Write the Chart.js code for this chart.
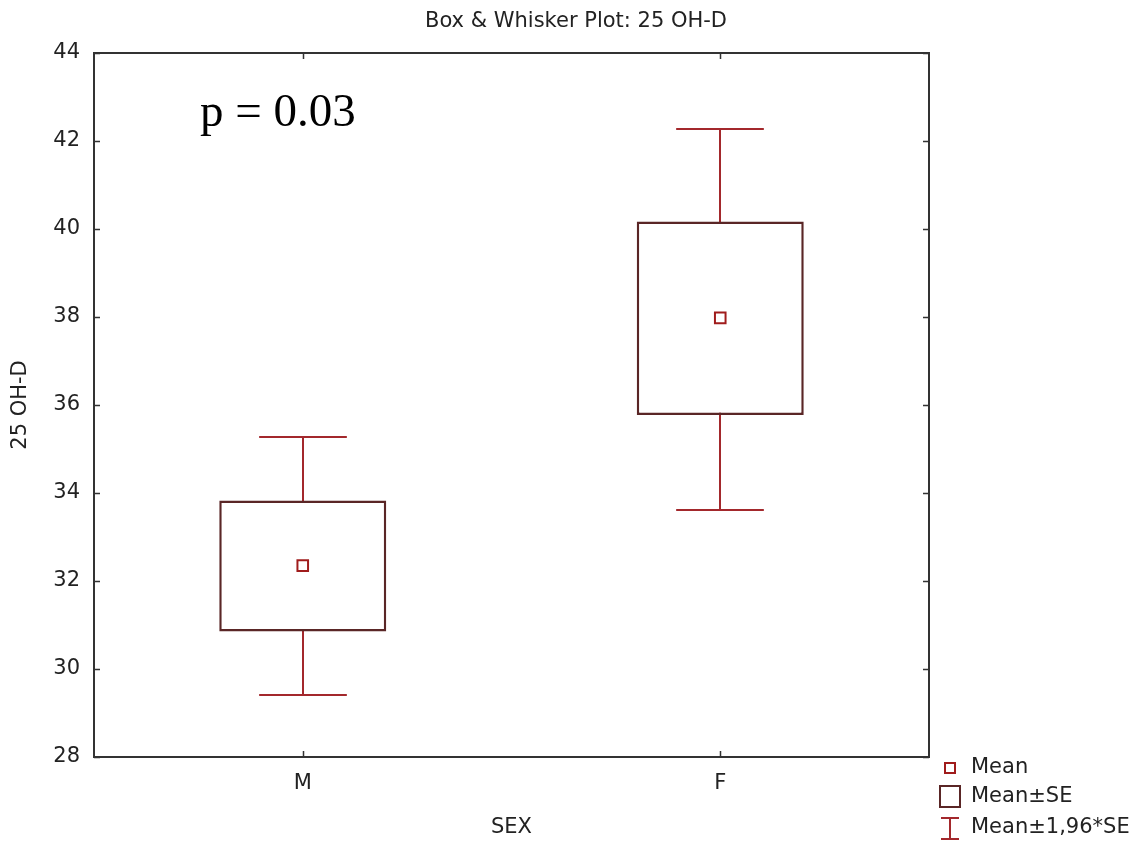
<!DOCTYPE html>
<html>
<head>
<meta charset="utf-8">
<script src="https://cdn.jsdelivr.net/npm/chart.js@4/dist/chart.umd.min.js"></script>
<style>
  html, body { margin: 0; background: #fff; }
  #wrap { width: 1134px; height: 841px; }
</style>
</head>
<body>
<div id="wrap"><canvas id="chart"></canvas></div>
<script>
"use strict";

// values
const groups = ["M", "F"];
const means = [32.35, 37.98];
const seLow = [30.85, 35.77];
const seHigh = [33.83, 40.17];
const ciLow = [29.42, 33.62];
const ciHigh = [35.27, 42.27];
const yTicks = [28, 30, 32, 34, 36, 38, 40, 42, 44];

const FONT = "'DejaVu Sans', sans-serif";
const FSIZE = 21;
const INK = "#222";
const FRAME = "#333";
const BOX = "#5a2626";
const WHISKER = "#a3282c";
const MEAN = "#a01c1c";

// frame + inward tick marks, and the whiskers under the boxes
const framePlugin = {
  id: "frame",
  beforeDatasetsDraw(chart) {
    const { ctx, chartArea: a, scales: { x, y } } = chart;
    ctx.save();
    ctx.strokeStyle = FRAME;
    ctx.lineWidth = 2;
    ctx.strokeRect(a.left, a.top, a.right - a.left, a.bottom - a.top);
    ctx.lineWidth = 1.5;
    ctx.beginPath();
    yTicks.forEach((t) => {
      const py = Math.round(y.getPixelForValue(t)) + 0.5;
      ctx.moveTo(a.left, py); ctx.lineTo(a.left + 6, py);
      ctx.moveTo(a.right, py); ctx.lineTo(a.right - 6, py);
    });
    groups.forEach((g, i) => {
      const px = Math.round(x.getPixelForValue(i)) + 0.5;
      ctx.moveTo(px, a.top); ctx.lineTo(px, a.top + 6);
      ctx.moveTo(px, a.bottom); ctx.lineTo(px, a.bottom - 6);
    });
    ctx.stroke();

    ctx.strokeStyle = WHISKER;
    ctx.lineWidth = 2;
    const cap = (x.getPixelForValue(1) - x.getPixelForValue(0)) * 0.21 / 2;
    ctx.beginPath();
    groups.forEach((g, i) => {
      const px = Math.round(x.getPixelForValue(i));
      const lo = Math.round(y.getPixelForValue(ciLow[i]));
      const hi = Math.round(y.getPixelForValue(ciHigh[i]));
      ctx.moveTo(px, lo); ctx.lineTo(px, hi);
      ctx.moveTo(px - cap, lo); ctx.lineTo(px + cap, lo);
      ctx.moveTo(px - cap, hi); ctx.lineTo(px + cap, hi);
    });
    ctx.stroke();
    ctx.restore();
  },
  afterDraw(chart) {
    const { ctx, chartArea: a } = chart;
    ctx.save();
    // title (centred on the whole picture, not the plot)
    ctx.fillStyle = INK;
    ctx.font = FSIZE + "px " + FONT;
    ctx.textAlign = "center";
    ctx.textBaseline = "middle";
    ctx.fillText("Box & Whisker Plot: 25 OH-D", chart.width / 2 + 9, 22);

    // p-value annotation
    ctx.textAlign = "left";
    ctx.fillStyle = "#000";
    ctx.font = "47px 'Liberation Serif', serif";
    ctx.textBaseline = "alphabetic";
    ctx.fillText("p = 0.03", a.left + 106, a.top + 73);

    // legend, bottom right
    const lx = a.right + 11;
    ctx.font = FSIZE + "px " + FONT;
    ctx.fillStyle = INK;
    ctx.textBaseline = "middle";
    ctx.fillText("Mean", lx + 31, a.bottom + 11);
    ctx.fillText("Mean\u00b1SE", lx + 31, a.bottom + 40);
    ctx.fillText("Mean\u00b11,96*SE", lx + 31, a.bottom + 71);

    ctx.lineWidth = 2;
    ctx.strokeStyle = MEAN;
    ctx.strokeRect(lx + 5, a.bottom + 6, 10, 10);
    ctx.strokeStyle = BOX;
    ctx.strokeRect(lx, a.bottom + 29, 20, 21);
    ctx.strokeStyle = WHISKER;
    ctx.beginPath();
    ctx.moveTo(lx + 10, a.bottom + 61); ctx.lineTo(lx + 10, a.bottom + 82);
    ctx.moveTo(lx + 1, a.bottom + 61); ctx.lineTo(lx + 19, a.bottom + 61);
    ctx.moveTo(lx + 1, a.bottom + 82); ctx.lineTo(lx + 19, a.bottom + 82);
    ctx.stroke();
    ctx.restore();
  },
};

new Chart(document.getElementById("chart"), {
  data: {
    labels: groups,
    datasets: [
      {
        type: "line",
        label: "Mean",
        order: 0,
        data: means,
        showLine: false,
        pointStyle: "rect",
        pointRadius: 7.5,
        borderWidth: 2,
        borderColor: MEAN,
        backgroundColor: "#fff",
      },
      {
        type: "bar",
        label: "Mean±SE",
        order: 1,
        data: groups.map((g, i) => [seLow[i], seHigh[i]]),
        backgroundColor: "#fff",
        borderColor: BOX,
        borderWidth: 2.5,
        borderSkipped: false,
        barPercentage: 0.4,
        categoryPercentage: 1,
      },
    ],
  },
  options: {
    responsive: true,
    maintainAspectRatio: false,
    animation: false,
    layout: { padding: { top: 53, left: 0, right: 205, bottom: 0 } },
    plugins: {
      legend: { display: false },
      tooltip: { enabled: false },
    },
    scales: {
      x: {
        type: "category",
        offset: true,
        grid: { display: false, drawTicks: false },
        border: { display: false },
        ticks: { color: INK, font: { family: FONT, size: FSIZE }, padding: 14 },
        title: {
          display: true, text: "SEX", color: INK,
          font: { family: FONT, size: FSIZE, lineHeight: 1.2 },
          padding: { top: 1, bottom: 1 },
        },
        afterFit(scale) { scale.height = 84; },
      },
      y: {
        min: 28,
        max: 44,
        grid: { display: false, drawTicks: false },
        border: { display: false },
        afterBuildTicks(scale) { scale.ticks = yTicks.map((v) => ({ value: v })); },
        ticks: { color: INK, font: { family: FONT, size: FSIZE }, padding: 14 },
        title: {
          display: true, text: "25 OH-D", color: INK,
          font: { family: FONT, size: FSIZE, lineHeight: 1.2 },
          padding: { top: 8, bottom: 0 },
        },
        afterFit(scale) { scale.width = 94; },
      },
    },
  },
  plugins: [framePlugin],
});
</script>
</body>
</html>
